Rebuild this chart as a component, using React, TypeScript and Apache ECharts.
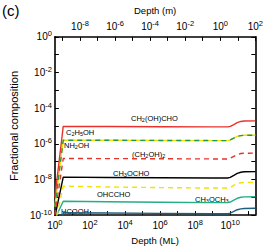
import React, { useEffect, useRef } from "react";
import * as echarts from "echarts";

// Depth in monolayers (ML) for every curve point
const depthML = [1, 3, 1e3, 1e6, 1e9, 7e9, 1e10, 1.6e10, 2.5e10, 4e10, 6.3e10, 2.7e11];
// 1 ML expressed in metres (top axis)
const mPerML = 3.704e-10;

// Fractional composition of each species
const CH2OHCHO = [1.0e-9, 9.5e-6, 9.3e-6, 9.1e-6, 8.9e-6, 8.9e-6, 9.6e-6, 1.2e-5, 1.55e-5, 1.8e-5, 1.9e-5, 1.95e-5];
const C2H5OH = [3.0e-10, 1.6e-6, 1.58e-6, 1.55e-6, 1.52e-6, 1.52e-6, 1.65e-6, 2.1e-6, 2.6e-6, 2.9e-6, 3.0e-6, 3.05e-6];
const NH2OH = [3.0e-10, 1.6e-6, 1.58e-6, 1.55e-6, 1.52e-6, 1.52e-6, 1.65e-6, 2.1e-6, 2.6e-6, 2.9e-6, 3.0e-6, 3.05e-6];
const CH2OH_2 = [1.0e-10, 1.5e-7, 1.48e-7, 1.45e-7, 1.42e-7, 1.42e-7, 1.55e-7, 2.0e-7, 2.5e-7, 2.85e-7, 2.95e-7, 3.0e-7];
const CH3OCHO = [8.0e-11, 1.35e-8, 1.3e-8, 1.25e-8, 1.2e-8, 1.2e-8, 1.3e-8, 1.7e-8, 2.2e-8, 2.55e-8, 2.7e-8, 2.75e-8];
const OHCCHO = [3.0e-11, 4.2e-9, 3.8e-9, 3.5e-9, 3.3e-9, 3.3e-9, 3.6e-9, 4.6e-9, 5.8e-9, 6.5e-9, 6.8e-9, 6.9e-9];
const CH3OCH3 = [6.0e-11, 6.0e-10, 5.6e-10, 5.3e-10, 5.0e-10, 5.0e-10, 5.4e-10, 7.0e-10, 8.8e-10, 1.0e-9, 1.05e-9, 1.07e-9];
const HCOOH = [1.0e-12, 1.35e-10, 1.3e-10, 1.25e-10, 1.2e-10, 1.2e-10, 1.3e-10, 1.6e-10, 2.0e-10, 2.25e-10, 2.35e-10, 2.4e-10];

// Tick decades and labelled decades
const bottomTickExps = [0, 1, 2, 3, 4, 5, 6, 7, 8, 9, 10, 11];
const bottomLabelExps = [0, 2, 4, 6, 8, 10];
const topTickExps = [-9, -8, -7, -6, -5, -4, -3, -2, -1, 0, 1, 2];
const topLabelExps = [-8, -6, -4, -2, 0, 2];
const leftLabelExps = [0, -2, -4, -6, -8, -10];

const FONT = "Liberation Sans";

const toXY = (vals: number[]) => depthML.map((d, i) => [Math.log10(d), Math.log10(vals[i])]);

const supRich = {
  b: { fontSize: 10, fontFamily: FONT, color: "#000" },
  sup: { fontSize: 7.5, fontFamily: FONT, color: "#000", padding: [0, 0, 6, 0] },
};
const powLabel = (v: number) => `{b|10}{sup|${Math.round(v)}}`;

const subRich = {
  t: { fontSize: 7.5, fontFamily: FONT, fill: "#000" },
  s: { fontSize: 5.5, fontFamily: FONT, fill: "#000", padding: [4, 0, 0, 0] },
};

export default function App() {
  const ref = useRef<HTMLDivElement>(null);
  useEffect(() => {
    document.body.style.margin = "0";
    if (!ref.current) return;
    const chart = echarts.init(ref.current, undefined, { renderer: "svg" });
    const xMin = Math.log10(depthML[0]);
    const xMax = Math.log10(depthML[depthML.length - 1]);
    const axisLine = { show: true, onZero: false, lineStyle: { color: "#000", width: 1.6 } };
    const tick = { show: true, inside: true, length: 4, lineStyle: { color: "#000", width: 1 } };

    const line = (name: string, data: number[], color: string, type: any, z: number) => ({
      type: "line",
      name,
      data: toXY(data),
      showSymbol: false,
      symbol: "none",
      clip: true,
      z,
      lineStyle: { color, width: 1.4, type },
      xAxisIndex: 0,
      yAxisIndex: 0,
    });

    chart.setOption({
      animation: false,
      grid: { left: 40, right: 8, top: 27, bottom: 28.5, containLabel: false },
      xAxis: [
        {
          type: "value",
          position: "bottom",
          min: xMin,
          max: xMax,
          axisLine,
          axisTick: { ...tick, customValues: bottomTickExps },
          axisLabel: {
            customValues: bottomLabelExps,
            formatter: powLabel,
            rich: supRich,
            margin: 3,
          },
          splitLine: { show: false },
          name: "Depth (ML)",
          nameLocation: "middle",
          nameGap: 15,
          nameTextStyle: { fontFamily: FONT, fontSize: 9.5, color: "#000" },
        },
        {
          type: "value",
          position: "top",
          min: Math.log10(depthML[0] * mPerML),
          max: Math.log10(depthML[depthML.length - 1] * mPerML),
          axisLine,
          axisTick: { ...tick, customValues: topTickExps },
          axisLabel: {
            customValues: topLabelExps,
            formatter: powLabel,
            rich: supRich,
            margin: 3,
          },
          splitLine: { show: false },
          name: "Depth (m)",
          nameLocation: "middle",
          nameGap: 15,
          nameTextStyle: { fontFamily: FONT, fontSize: 9.5, color: "#000" },
        },
      ],
      yAxis: [
        {
          type: "value",
          position: "left",
          min: -10,
          max: 0,
          interval: 1,
          axisLine,
          axisTick: tick,
          axisLabel: {
            customValues: leftLabelExps,
            formatter: powLabel,
            rich: supRich,
            margin: 3,
          },
          splitLine: { show: false },
          name: "Fractional composition",
          nameLocation: "middle",
          nameGap: 32,
          nameTextStyle: { fontFamily: FONT, fontSize: 11, color: "#000" },
        },
        {
          type: "value",
          position: "right",
          min: -10,
          max: 0,
          interval: 1,
          axisLine,
          axisTick: tick,
          axisLabel: { show: false },
          splitLine: { show: false },
        },
      ],
      series: [
        line("HCOOH", HCOOH, "#1d5f7c", "solid", 2),
        line("CH3OCH3", CH3OCH3, "#25ad86", "solid", 2),
        line("OHCCHO", OHCCHO, "#f2e200", [5, 4], 2),
        line("CH3OCHO", CH3OCHO, "#000000", "solid", 2),
        line("(CH2OH)2", CH2OH_2, "#e8322c", [5, 4], 2),
        line("C2H5OH", C2H5OH, "#f2e200", "solid", 2),
        line("NH2OH", NH2OH, "#1f9a4c", [5, 4], 3),
        line("CH2(OH)CHO", CH2OHCHO, "#e8322c", "solid", 3),
      ],
      graphic: [
        { type: "text", x: 2, y: 10, style: { text: "(c)", fontSize: 15, fontFamily: FONT, fill: "#000", verticalAlign: "middle" } },
        { type: "text", x: 131, y: 118, style: { text: "{t|CH}{s|2}{t|(OH)CHO}", rich: subRich, verticalAlign: "middle" } },
        { type: "text", x: 66, y: 132, style: { text: "{t|C}{s|2}{t|H}{s|5}{t|OH}", rich: subRich, verticalAlign: "middle" } },
        { type: "text", x: 64, y: 145, style: { text: "{t|NH}{s|2}{t|OH}", rich: subRich, verticalAlign: "middle" } },
        { type: "text", x: 132, y: 154, style: { text: "{t|(CH}{s|2}{t|OH)}{s|2}", rich: subRich, verticalAlign: "middle" } },
        { type: "text", x: 113, y: 173, style: { text: "{t|CH}{s|3}{t|OCHO}", rich: subRich, verticalAlign: "middle" } },
        { type: "text", x: 97, y: 194, style: { text: "{t|OHCCHO}", rich: subRich, verticalAlign: "middle" } },
        { type: "text", x: 195, y: 199, style: { text: "{t|CH}{s|3}{t|OCH}{s|3}", rich: subRich, verticalAlign: "middle" } },
        { type: "text", x: 61, y: 211.5, style: { text: "{t|HCOOH}", rich: subRich, verticalAlign: "middle" } },
      ],
    });
    return () => chart.dispose();
  }, []);
  return <div ref={ref} style={{ width: 266, height: 250 }} />;
}
